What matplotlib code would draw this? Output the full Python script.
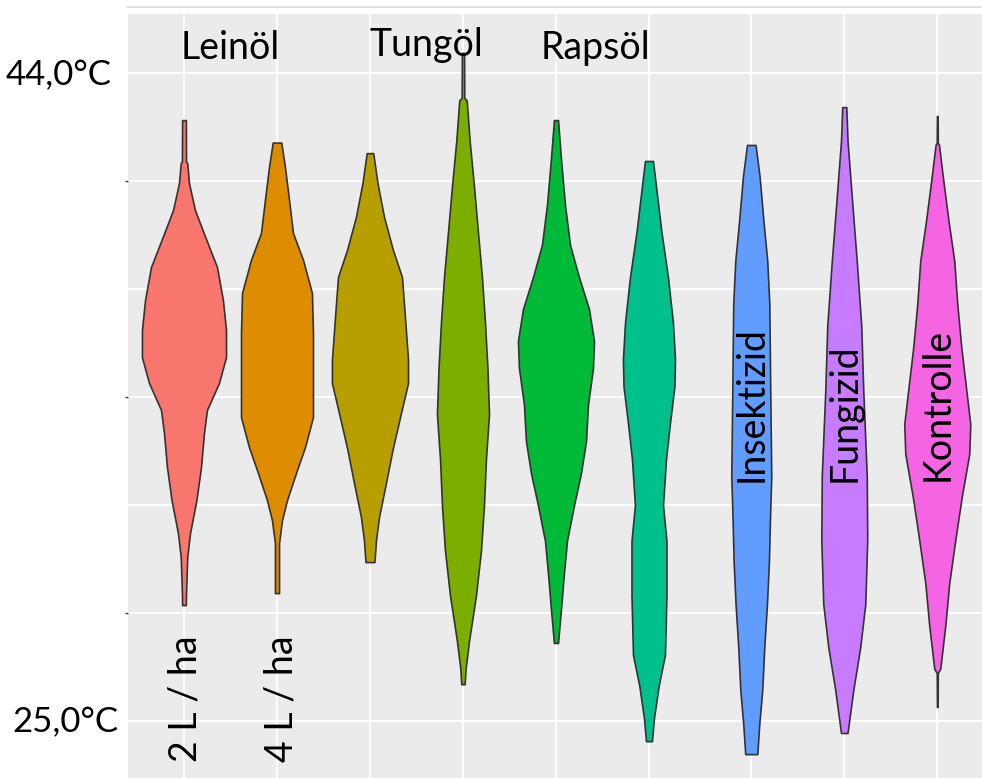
import numpy as np
import matplotlib
matplotlib.use("Agg")
import matplotlib.pyplot as plt
from matplotlib.lines import Line2D

plt.rcParams['font.family'] = ['Lato', 'DejaVu Sans']

# group positions (gap before the last three = stitched panel)
positions = [1, 2, 3, 4, 5, 6, 7.1, 8.1, 9.1]
colors = ['#F8766D', '#DE8C00', '#B79F00', '#7CAE00', '#00BA38',
          '#00C08B', '#619CFF', '#C77CFF', '#F564E3']

# violin outlines: temperature (°C) and half width (in group units)
t_lein2 = [42.62, 41.40, 41.36, 40.77, 39.98, 39.10, 38.31, 37.34, 36.46, 35.67,
           34.91, 34.12, 33.44, 32.45, 31.48, 30.51, 29.81, 28.75, 28.40]
w_lein2 = [0.020, 0.022, 0.035, 0.054, 0.118, 0.242, 0.355, 0.419, 0.452, 0.452,
           0.376, 0.247, 0.215, 0.183, 0.134, 0.065, 0.035, 0.022, 0.020]

t_lein4 = [41.96, 41.24, 40.36, 39.31, 38.52, 37.55, 36.38, 34.71, 33.91, 33.03,
           32.27, 31.48, 30.89, 30.22, 28.75]
w_lein4 = [0.046, 0.086, 0.126, 0.172, 0.280, 0.376, 0.387, 0.387, 0.387, 0.301,
           0.204, 0.108, 0.054, 0.022, 0.022]

t_lein_x = [41.65, 40.77, 39.78, 38.81, 38.02, 36.85, 35.59, 34.91, 33.91, 32.95,
            31.98, 30.98, 30.31, 29.66]
w_lein_x = [0.035, 0.081, 0.151, 0.247, 0.344, 0.376, 0.409, 0.409, 0.323, 0.242,
            0.172, 0.097, 0.065, 0.048]

t_tung = [44.59, 43.27, 43.20, 42.01, 40.69, 39.34, 38.02, 36.67, 35.35, 34.00,
          32.68, 31.33, 30.01, 28.69, 27.35, 26.55, 26.08]
w_tung = [0.012, 0.014, 0.040, 0.072, 0.118, 0.161, 0.204, 0.237, 0.263, 0.280,
          0.247, 0.226, 0.194, 0.140, 0.065, 0.029, 0.018]

t_raps = [42.62, 41.48, 40.13, 38.96, 38.02, 37.08, 36.14, 35.35, 34.27, 33.21,
          32.27, 31.33, 30.28, 29.34, 28.28, 27.29]
w_raps = [0.022, 0.054, 0.097, 0.151, 0.247, 0.355, 0.409, 0.398, 0.344, 0.323,
          0.269, 0.194, 0.118, 0.086, 0.054, 0.022]

t_raps2 = [41.42, 40.69, 39.34, 38.02, 36.67, 35.61, 34.82, 33.74, 32.68, 31.33,
           30.28, 28.69, 26.94, 26.03, 25.09, 24.41]
w_raps2 = [0.043, 0.075, 0.134, 0.204, 0.258, 0.280, 0.274, 0.226, 0.183, 0.151,
           0.188, 0.188, 0.172, 0.104, 0.054, 0.032]

t_insekt = [41.89, 40.98, 39.72, 38.49, 37.23, 34.71, 32.18, 30.92, 29.69, 28.43,
            27.17, 25.91, 24.91, 24.03]
w_insekt = [0.046, 0.089, 0.129, 0.172, 0.194, 0.204, 0.215, 0.201, 0.190, 0.169,
            0.140, 0.118, 0.086, 0.065]

t_fungi = [43.00, 42.01, 40.36, 38.49, 36.58, 34.71, 32.18, 30.31, 28.43, 27.17,
           25.91, 24.65]
w_fungi = [0.022, 0.035, 0.081, 0.134, 0.183, 0.204, 0.242, 0.247, 0.226, 0.172,
           0.097, 0.035]

t_kontr = [42.74, 41.95, 41.90, 40.98, 39.72, 38.49, 37.23, 35.97, 34.71, 33.71,
           32.83, 31.57, 30.31, 29.05, 27.79, 26.53, 26.41, 25.41]
w_kontr = [0.004, 0.006, 0.018, 0.059, 0.118, 0.183, 0.215, 0.258, 0.312, 0.355,
           0.344, 0.263, 0.194, 0.129, 0.086, 0.032, 0.006, 0.004]

temps = [t_lein2, t_lein4, t_lein_x, t_tung, t_raps, t_raps2, t_insekt, t_fungi, t_kontr]
widths = [w_lein2, w_lein4, w_lein_x, w_tung, w_raps, w_raps2, w_insekt, w_fungi, w_kontr]

grid_major = [40.833, 34.5, 28.167]
grid_minor = [44.0, 37.667, 31.333, 25.0]

fig = plt.figure(figsize=(9.82, 7.78), dpi=100)
ax = fig.add_axes([128 / 982, 0, 1 - 128 / 982, 764 / 778])
ax.set_facecolor('#EBEBEB')
for s in ax.spines.values():
    s.set_visible(False)

ax.set_xlim(0.398, 9.581)
ax.set_ylim(23.33, 45.73)

ax.set_xticks(positions, labels=[''] * len(positions))
ax.set_yticks(grid_major, labels=[''] * len(grid_major))
ax.set_yticks(grid_minor, minor=True)
ax.tick_params(axis='x', length=0)
ax.tick_params(axis='y', which='major', length=2.5, width=1, color='#333333')
ax.tick_params(axis='y', which='minor', length=0)
ax.grid(True, which='both', color='white', linewidth=1.3)
ax.set_axisbelow(True)

for pos, t, w, c in zip(positions, temps, widths, colors):
    t = np.array(t)
    w = np.array(w)
    ax.fill_betweenx(t, pos - w, pos + w, facecolor=c, edgecolor='#333333',
                     linewidth=1.2, zorder=3)

fs = 27
# y labels, placed as in the reference
fig.text(112 / 982, 1 - 75 / 778, '44,0°C', ha='right', va='center', fontsize=25)
fig.text(118 / 982, 1 - 722 / 778, '25,0°C', ha='right', va='center', fontsize=25)

ax.text(1.5, 44.74, 'Leinöl', ha='center', va='center', fontsize=fs, zorder=5)
ax.text(3.61, 44.82, 'Tungöl', ha='center', va='center', fontsize=fs, zorder=5)
ax.text(5.42, 44.74, 'Rapsöl', ha='center', va='center', fontsize=fs, zorder=5)
ax.text(1.02, 25.67, '2 L / ha', ha='center', va='center', rotation=90, fontsize=fs, zorder=5)
ax.text(2.05, 25.67, '4 L / ha', ha='center', va='center', rotation=90, fontsize=fs, zorder=5)
ax.text(7.1, 34.29, 'Insektizid', ha='center', va='center', rotation=90, fontsize=fs, zorder=5)
ax.text(8.1, 34.03, 'Fungizid', ha='center', va='center', rotation=90, fontsize=fs, zorder=5)
ax.text(9.1, 34.27, 'Kontrolle', ha='center', va='center', rotation=90, fontsize=fs, zorder=5)

fig.add_artist(Line2D([127 / 982, 1], [1 - 7 / 778, 1 - 7 / 778], color='#DDDDDD', linewidth=1.2))

fig.savefig('out.png', dpi=100)
